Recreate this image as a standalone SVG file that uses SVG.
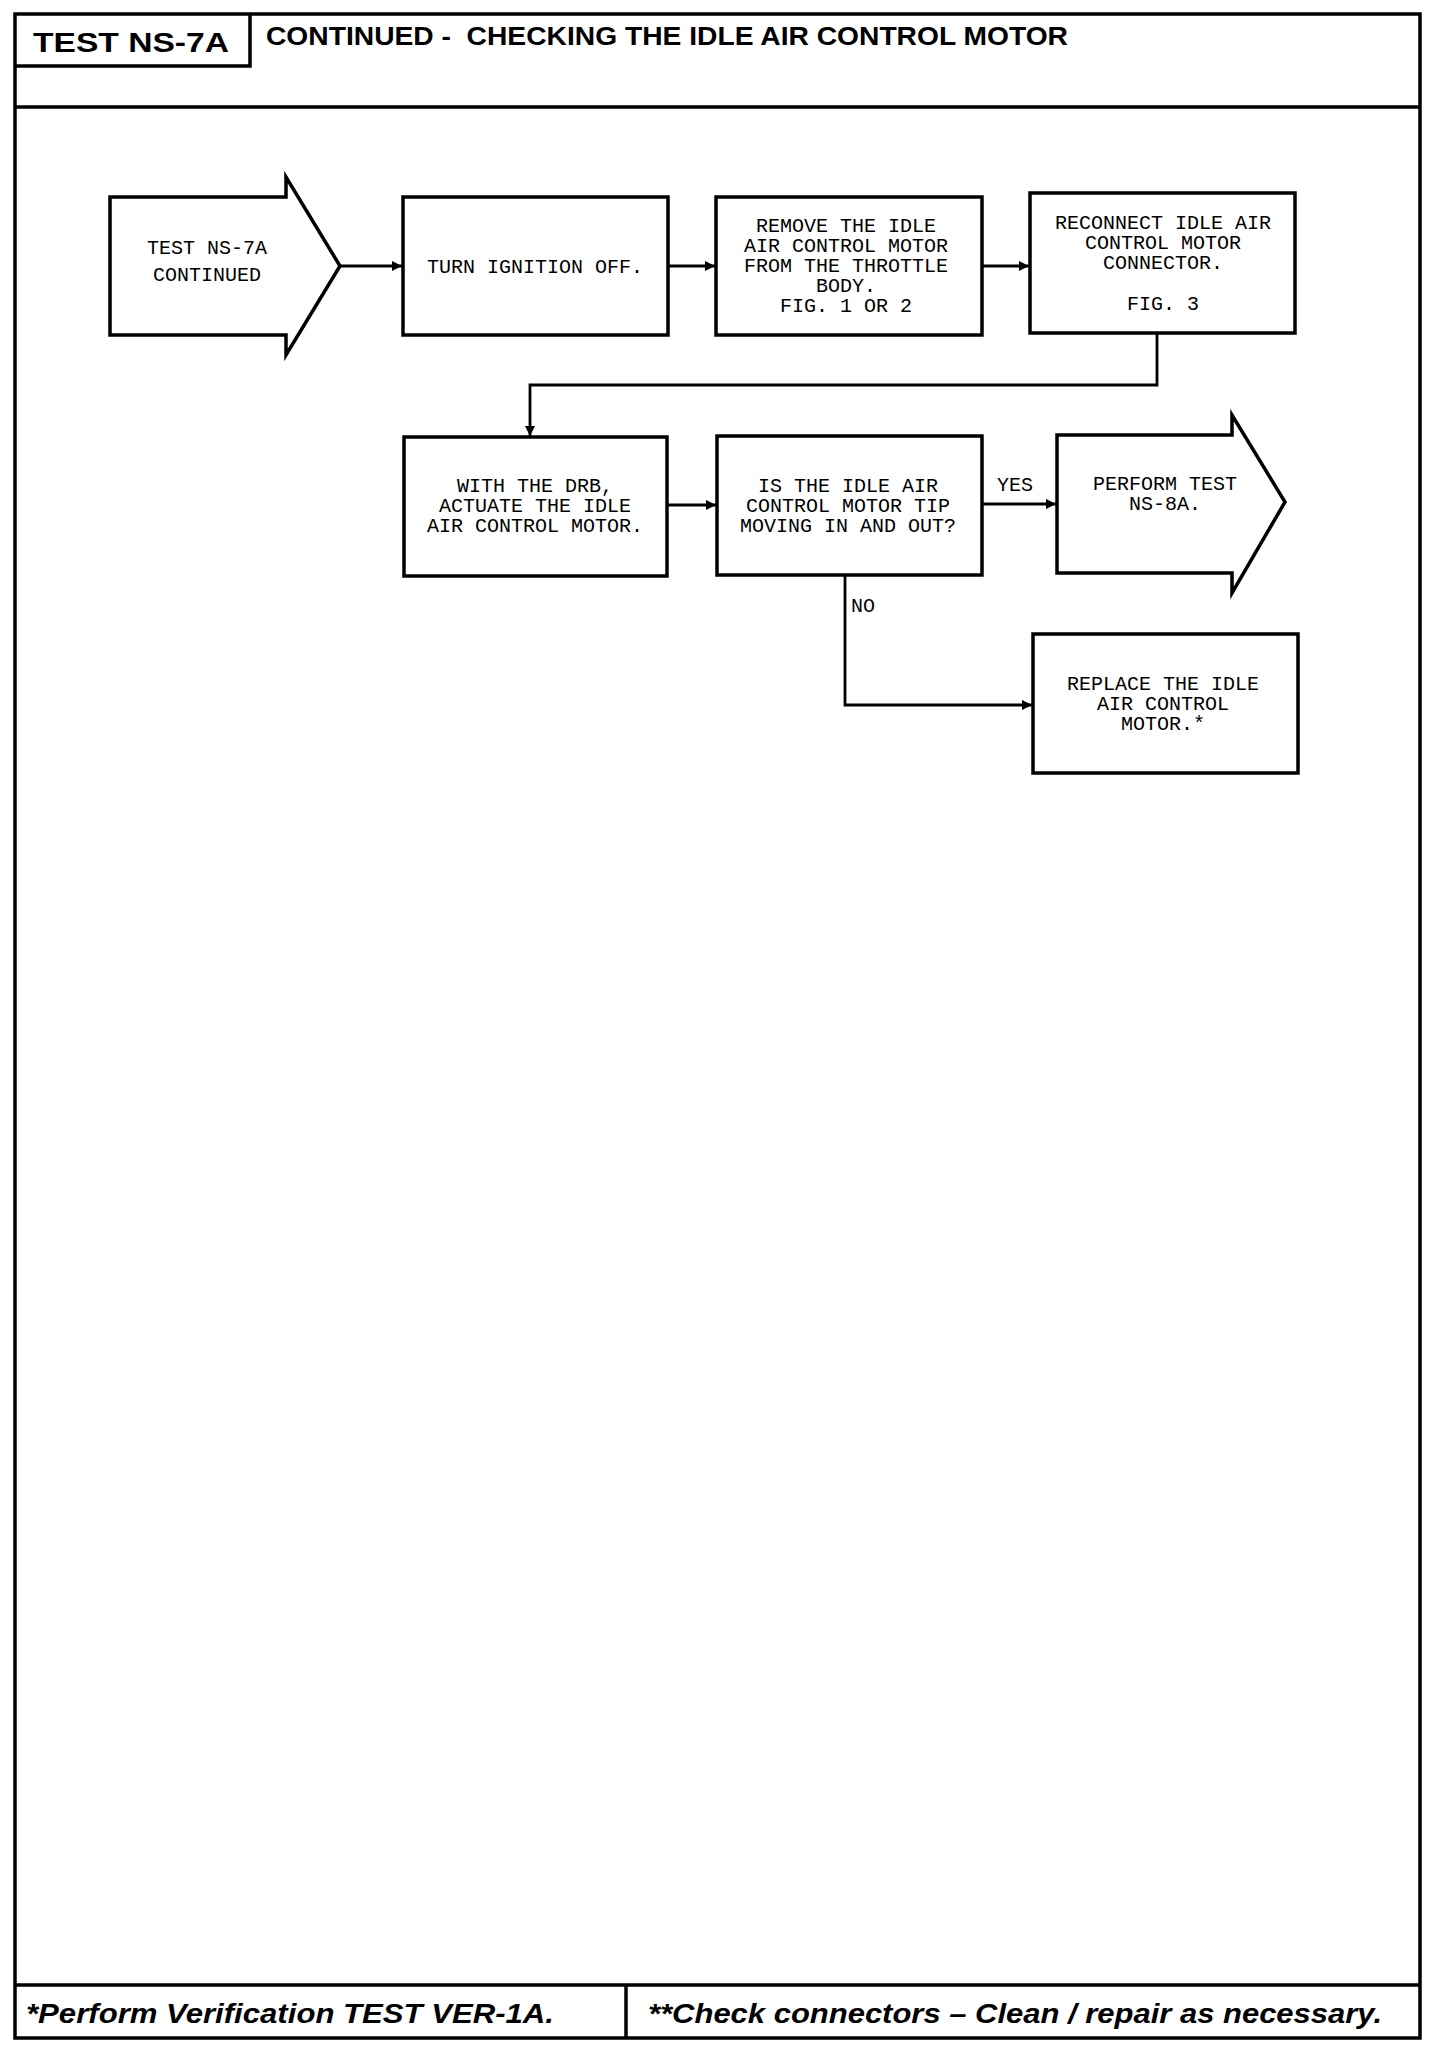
<svg xmlns="http://www.w3.org/2000/svg" width="1440" height="2048" viewBox="0 0 1440 2048">
<style>
.frame{fill:none;stroke:#000;stroke-width:3.5}
.box{fill:#fff;stroke:#000;stroke-width:3.5;stroke-linejoin:miter}
.conn{fill:none;stroke:#000;stroke-width:2.8}
.t{font-family:"Liberation Mono","DejaVu Sans Mono",monospace;font-size:20px;fill:#000;text-anchor:middle}
.lbl{font-family:"Liberation Mono","DejaVu Sans Mono",monospace;font-size:20px;fill:#000}
.hd{font-family:"Liberation Sans",Arial,sans-serif;font-weight:bold;fill:#000}
.ft{font-family:"Liberation Sans",Arial,sans-serif;font-weight:bold;font-style:italic;font-size:28px;fill:#000}
</style>
<defs>
<marker id="ah" markerUnits="userSpaceOnUse" markerWidth="12" markerHeight="10" refX="10" refY="5" orient="auto">
<path d="M0,0 L10,5 L0,10 Z" fill="#000"/>
</marker>
</defs>
<rect width="1440" height="2048" fill="#fff"/>
<g id="frame">
<rect class="frame" x="15" y="14" width="1405" height="2024"/>
<polyline class="frame" points="15,66 250,66 250,14"/>
<line class="frame" x1="15" y1="107" x2="1420" y2="107"/>
<line class="frame" x1="15" y1="1985" x2="1420" y2="1985"/>
<line class="frame" x1="626" y1="1985" x2="626" y2="2038"/>
<text class="hd" x="33" y="52" font-size="28" textLength="196" lengthAdjust="spacingAndGlyphs">TEST NS-7A</text>
<text class="hd" x="266" y="45" font-size="26" textLength="802" lengthAdjust="spacingAndGlyphs" xml:space="preserve">CONTINUED -  CHECKING THE IDLE AIR CONTROL MOTOR</text>
<text class="ft" x="26" y="2023" textLength="528" lengthAdjust="spacingAndGlyphs">*Perform Verification TEST VER-1A.</text>
<text class="ft" x="648" y="2023" textLength="734" lengthAdjust="spacingAndGlyphs">**Check connectors – Clean / repair as necessary.</text>
</g>
<g id="connectors">
<line class="conn" x1="340" y1="266" x2="402" y2="266" marker-end="url(#ah)"/>
<line class="conn" x1="668" y1="266" x2="715" y2="266" marker-end="url(#ah)"/>
<line class="conn" x1="982" y1="266" x2="1029" y2="266" marker-end="url(#ah)"/>
<polyline class="conn" points="1157,333 1157,385 530,385 530,436" marker-end="url(#ah)"/>
<line class="conn" x1="667" y1="505" x2="716" y2="505" marker-end="url(#ah)"/>
<line class="conn" x1="982" y1="504" x2="1056" y2="504" marker-end="url(#ah)"/>
<polyline class="conn" points="845,575 845,705 1032,705" marker-end="url(#ah)"/>
<text class="lbl" x="997" y="491">YES</text>
<text class="lbl" x="851" y="612">NO</text>
</g>
<g id="n1">
<polygon class="box" points="110,197 286,197 286,177 340,266 286,355 286,335 110,335"/>
<text class="t" x="207" y="254">TEST NS-7A</text>
<text class="t" x="207" y="281">CONTINUED</text>
</g>
<g id="n2">
<rect class="box" x="403" y="197" width="265" height="138"/>
<text class="t" x="535" y="273">TURN IGNITION OFF.</text>
</g>
<g id="n3">
<rect class="box" x="716" y="197" width="266" height="138"/>
<text class="t" x="846" y="232">REMOVE THE IDLE</text>
<text class="t" x="846" y="252">AIR CONTROL MOTOR</text>
<text class="t" x="846" y="272">FROM THE THROTTLE</text>
<text class="t" x="846" y="292">BODY.</text>
<text class="t" x="846" y="312">FIG. 1 OR 2</text>
</g>
<g id="n4">
<rect class="box" x="1030" y="193" width="265" height="140"/>
<text class="t" x="1163" y="229">RECONNECT IDLE AIR</text>
<text class="t" x="1163" y="249">CONTROL MOTOR</text>
<text class="t" x="1163" y="269">CONNECTOR.</text>
<text class="t" x="1163" y="310">FIG. 3</text>
</g>
<g id="n5">
<rect class="box" x="404" y="437" width="263" height="139"/>
<text class="t" x="535" y="492">WITH THE DRB,</text>
<text class="t" x="535" y="512">ACTUATE THE IDLE</text>
<text class="t" x="535" y="532">AIR CONTROL MOTOR.</text>
</g>
<g id="n6">
<rect class="box" x="717" y="436" width="265" height="139"/>
<text class="t" x="848" y="492">IS THE IDLE AIR</text>
<text class="t" x="848" y="512">CONTROL MOTOR TIP</text>
<text class="t" x="848" y="532">MOVING IN AND OUT?</text>
</g>
<g id="n7">
<polygon class="box" points="1057,435 1232,435 1232,415 1285,502 1232,593 1232,573 1057,573"/>
<text class="t" x="1165" y="490">PERFORM TEST</text>
<text class="t" x="1165" y="510">NS-8A.</text>
</g>
<g id="n8">
<rect class="box" x="1033" y="634" width="265" height="139"/>
<text class="t" x="1163" y="690">REPLACE THE IDLE</text>
<text class="t" x="1163" y="710">AIR CONTROL</text>
<text class="t" x="1163" y="730">MOTOR.*</text>
</g>
</svg>
